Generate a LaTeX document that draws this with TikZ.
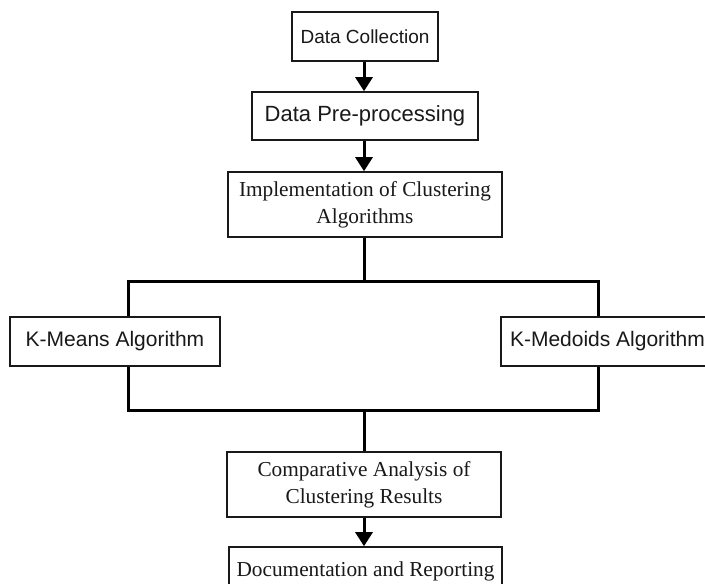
\documentclass[tikz,border=0pt]{standalone}
\usepackage{fontspec}
\setmainfont{Liberation Serif}
\setsansfont{Liberation Sans}
\usepackage{xcolor}
\definecolor{inkgray}{RGB}{25,25,25}
\usepackage{tikz}
\usetikzlibrary{
  arrows.meta,
  positioning,
  calc
}

\begin{document}
\begin{tikzpicture}[
  x=1pt, y=-1pt,
  sansbox/.style={rectangle, draw=inkgray, line width=1.6pt, fill=white, inner sep=0pt, font=\sffamily\fontsize{21}{25}\selectfont, text=inkgray, align=center, minimum height=49pt},
  serifbox/.style={rectangle, draw=inkgray, line width=1.6pt, fill=white, inner sep=0pt, font=\fontsize{21.3}{27}\selectfont, text=inkgray, align=center, minimum width=274pt, minimum height=65pt},
  flow/.style={-{Triangle[length=14pt, width=17pt]}, line width=3pt, black},
  branch/.style={line width=3pt, black}
]
  \useasboundingbox (0,0) rectangle (705,584);

  % bracket behind the two algorithm boxes
  \coordinate (tl) at (128,281);
  \coordinate (tr) at (598,281);
  \coordinate (bl) at (128,410);
  \coordinate (br) at (598,410);
  \draw[branch] (tl) -- (tr) -- (br) -- (bl) -- cycle;

  \node[sansbox, minimum width=146pt, font=\sffamily\fontsize{19}{23}\selectfont] (collect) at (365,36.5) {Data Collection};
  \node[sansbox, minimum width=226pt, minimum height=48pt, font=\sffamily\fontsize{22}{26}\selectfont] (prep) at (365,116) {Data Pre-processing};
  \node[serifbox] (impl) at (365,204.5) {Implementation of Clustering\\Algorithms};
  \node[sansbox, minimum width=210pt] (kmeans) at (115,341.5) {K-Means Algorithm};
  \node[sansbox, minimum width=213pt] (kmedoids) at (607.5,341.5) {K-Medoids Algorithm};
  \node[serifbox] (compare) at (364,484.5) {Comparative Analysis of\\Clustering Results};
  \node[serifbox, minimum width=273pt, minimum height=49pt] (report) at (365.5,571.5) {Documentation and Reporting};

  \draw[flow] (collect.south -| 364,0) -- (prep.north -| 364,0);
  \draw[flow] (prep.south -| 364,0) -- (impl.north -| 364,0);
  \draw[branch] (impl.south -| 364,0) -- (364,281);
  \draw[branch] (364,410) -- (compare.north -| 364,0);
  \draw[flow] (compare.south -| 364,0) -- (report.north -| 364,0);
\end{tikzpicture}
\end{document}
